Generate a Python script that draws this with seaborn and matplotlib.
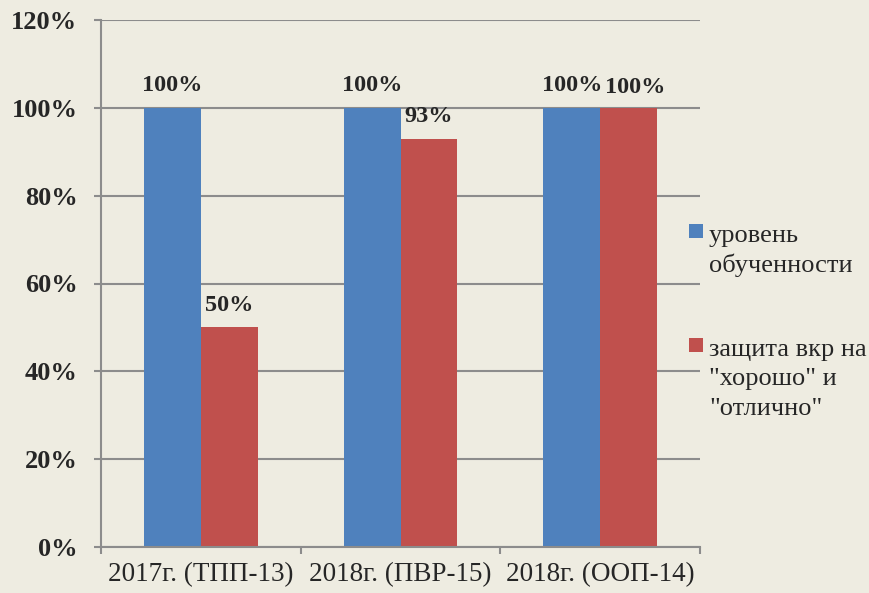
import matplotlib
matplotlib.use("Agg")
import matplotlib.pyplot as plt
import seaborn as sns
import pandas as pd
from matplotlib.patches import Rectangle

categories = ["2017г. (ТПП-13)", "2018г. (ПВР-15)", "2018г. (ООП-14)"]
series_names = ["уровень обученности", "защита вкр на \"хорошо\" и \"отлично\""]
legend_lines = [["уровень", "обученности"], ["защита вкр на", "\"хорошо\" и", "\"отлично\""]]
level_values = [100, 100, 100]
defense_values = [50, 93, 100]
y_ticks = [0, 20, 40, 60, 80, 100, 120]
y_tick_labels = ["0%", "20%", "40%", "60%", "80%", "100%", "120%"]

colors = ["#4F81BD", "#C0504D"]
bg = "#EEECE1"
grid_c = "#8C8C8C"

df = pd.DataFrame({
    "cat": categories * 2,
    "series": [series_names[0]] * 3 + [series_names[1]] * 3,
    "value": level_values + defense_values,
})

sns.set_theme(style="white")
plt.rcParams["font.family"] = ["Liberation Serif", "DejaVu Serif"]

W, H = 869, 593
fig = plt.figure(figsize=(W / 100, H / 100), dpi=100, facecolor=bg)
ax = fig.add_axes([101 / W, 46 / H, 599 / W, 527 / H])
ax.set_facecolor(bg)

sns.barplot(data=df, x="cat", y="value", hue="series", hue_order=series_names,
            order=categories, palette=colors, width=0.57, saturation=1,
            ax=ax, legend=False, edgecolor="none", linewidth=0)

ax.set_ylim(0, 120)
ax.set_xlim(-0.5, 2.5)
ax.set_yticks(y_ticks)
ax.set_yticklabels(y_tick_labels, fontsize=19, fontweight="bold")
ax.yaxis.grid(True, color=grid_c, linewidth=1.5)
ax.set_axisbelow(True)
ax.tick_params(axis="y", length=5, width=1.5, color=grid_c, left=True, pad=12)
ax.set_xticks(range(len(categories)))
ax.set_xticklabels(categories, fontsize=19.5)
ax.tick_params(axis="x", length=0, pad=11)
ax.set_xticks([-0.5, 0.5, 1.5, 2.5], minor=True)
ax.tick_params(axis="x", which="minor", length=5, width=1.5, color=grid_c, bottom=True)
ax.set_xlabel("")
ax.set_ylabel("")
for s in ["top", "right"]:
    ax.spines[s].set_visible(False)
for s in ["left", "bottom"]:
    ax.spines[s].set_color(grid_c)
    ax.spines[s].set_linewidth(1.5)

for ci, cont in enumerate(ax.containers):
    for bi, bar in enumerate(cont):
        x = bar.get_x() + bar.get_width() / 2
        h = bar.get_height()
        dx, dy = 0, 12
        if ci == 1 and bi == 2:
            dx, dy = 5, 10.5
        ax.annotate(f"{h:.0f}%", (x, h), xytext=(dx, dy), textcoords="offset points",
                    ha="center", va="baseline", fontsize=17.5, fontweight="bold")

# legend (markers aligned to first text line, as in the reference)
entry_tops = [224, 338]
for i, (lines, c) in enumerate(zip(legend_lines, colors)):
    top = entry_tops[i]
    fig.patches.append(Rectangle((689 / W, 1 - (top + 14) / H), 14 / W, 14 / H,
                                 transform=fig.transFigure, facecolor=c, edgecolor="none"))
    base = top + 18
    for j, line in enumerate(lines):
        fig.text(709 / W, 1 - (base + 29.5 * j) / H, line, fontsize=19,
                 ha="left", va="baseline")

fig.savefig("out.png", dpi=100, facecolor=bg)
